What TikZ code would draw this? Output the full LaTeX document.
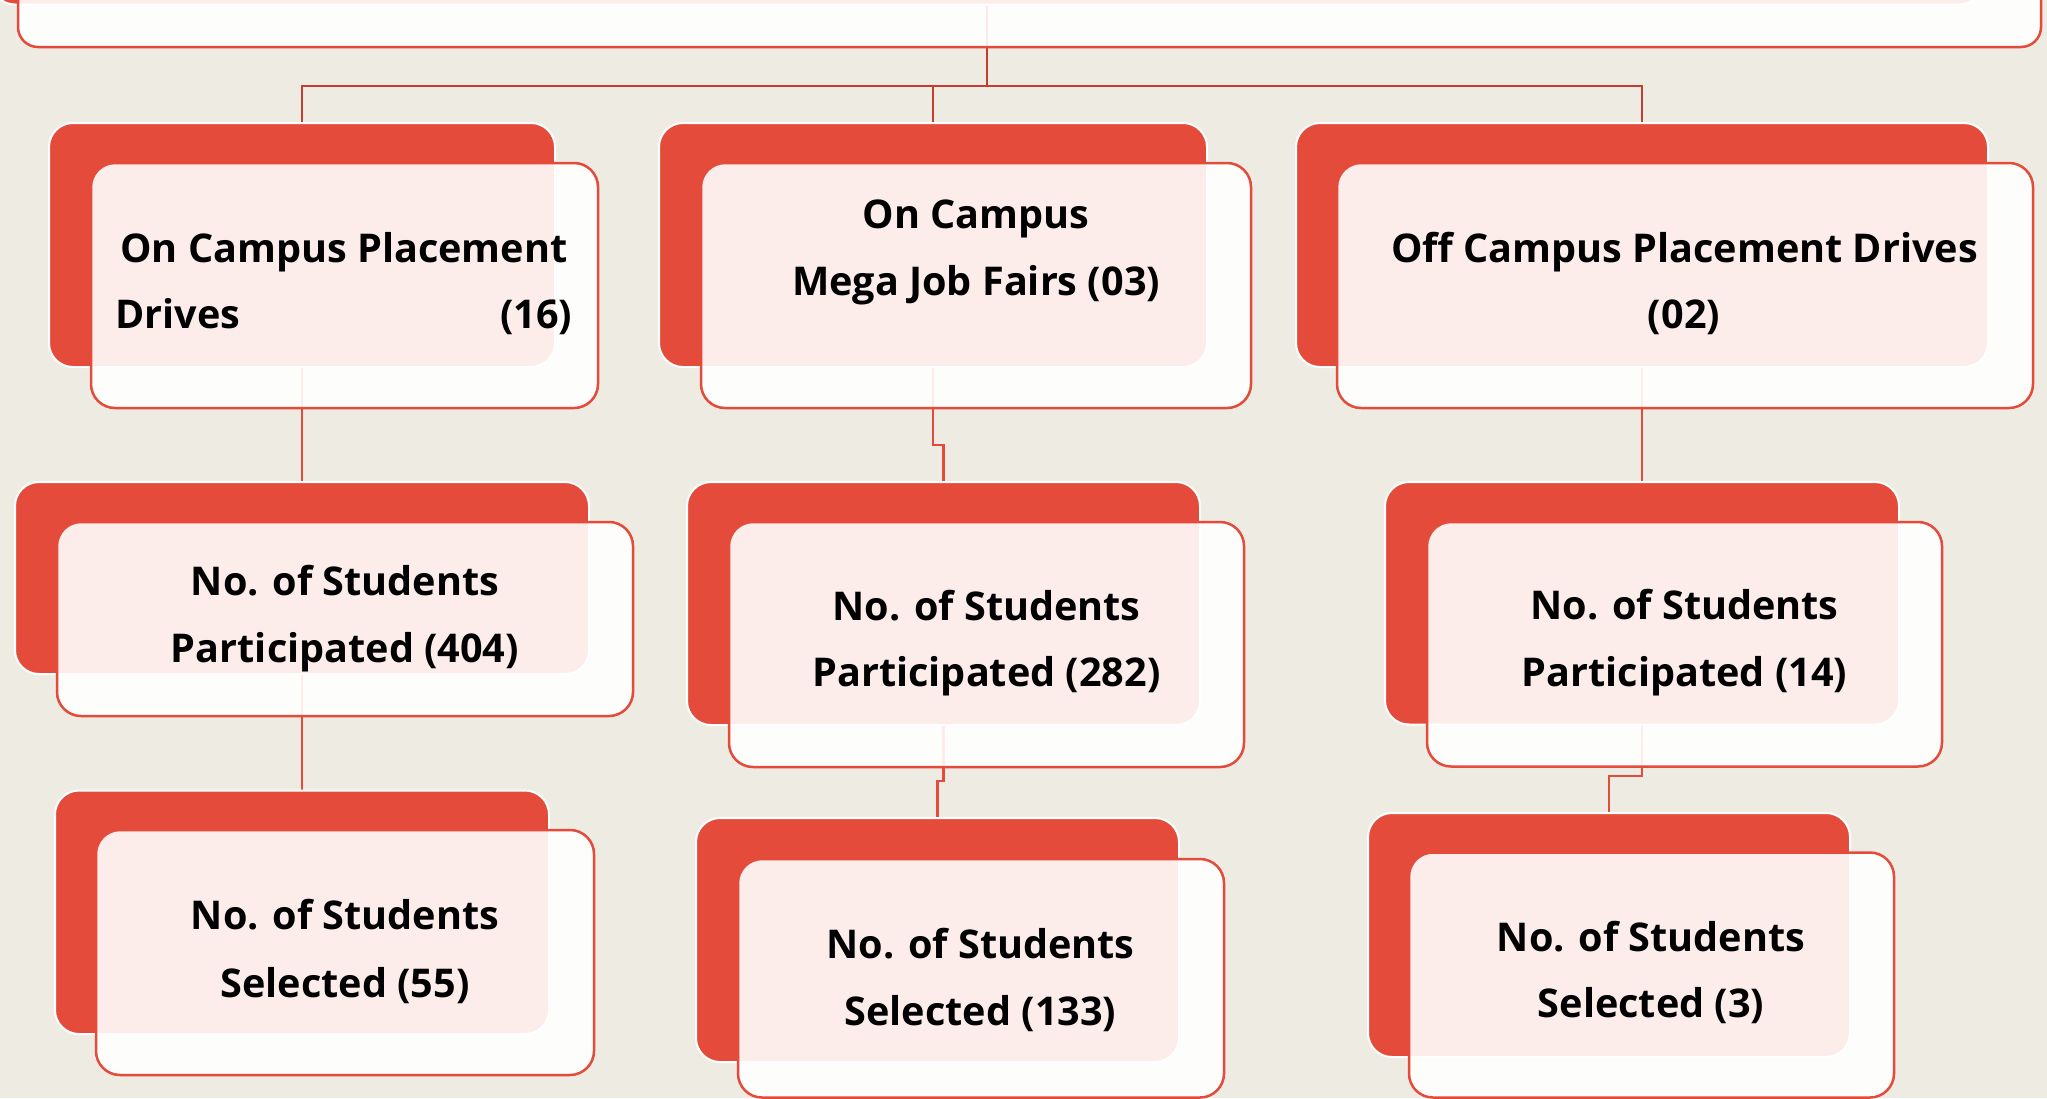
\documentclass[tikz,border=0pt]{standalone}
\usepackage{fontspec}
\setmainfont{Open Sans}
\definecolor{bgc}{HTML}{EEEBE3}
\definecolor{redc}{HTML}{E54B3A}
\definecolor{darkc}{HTML}{C63D30}
\newcommand\mybox[6]{\node[#6, minimum width={(#4)-(#2)}, minimum height={(#5)-(#3)}] (#1) at ({((#2)+(#4))/2},{((#3)+(#5))/2}) {};}
\tikzset{
  backst/.style={rectangle, rounded corners=24, fill=redc, draw=white, line width=2, inner sep=0, outer sep=0},
  frontst/.style={rectangle, rounded corners=24, fill=white, fill opacity=0.9, draw=redc, line width=2.5, inner sep=0, outer sep=0},
  conn/.style={draw=redc, line width=2.2},
  topconn/.style={draw=darkc, line width=2.6},
  txt/.style={font=\fontsize{39.6}{46}\selectfont\bfseries, anchor=base, inner sep=0, text=black}
}
\begin{document}
\begin{tikzpicture}[x=1pt,y=-1pt]
\useasboundingbox (0,0) rectangle (2047,1098);
\clip (0,0) rectangle (2047,1098);
\fill[bgc] (0,0) rectangle (2047,1098);
% junction coordinates
\coordinate (bus) at (0,86);
\coordinate (jB) at (0,445);
\coordinate (jE) at (0,781);
\coordinate (jF) at (0,776);
% invisible placement of node centers for connectors (boxes drawn later)
\begin{scope}[opacity=0]
\mybox{Rb}{-9}{-240}{1983}{4.5}{backst}
\mybox{Ab}{49}{123}{555}{367}{backst}
\mybox{Bb}{659}{123}{1207}{367}{backst}
\mybox{Cb}{1296}{123}{1988}{367}{backst}
\mybox{Db}{15}{482}{589}{674}{backst}
\mybox{Eb}{687}{482}{1200}{725}{backst}
\mybox{Fb}{1385}{482}{1899}{724.5}{backst}
\mybox{Gb}{55}{790.5}{549}{1034}{backst}
\mybox{Hb}{696}{818}{1179}{1062}{backst}
\mybox{Ib}{1368}{813}{1850}{1057}{backst}
\end{scope}
% connectors
\draw[topconn] (Rb.center) -- (Rb.center |- bus) -- (Ab.center |- bus) -- (Ab.north);
\draw[topconn] (Rb.center) -- (Rb.center |- bus) -- (Bb.center |- bus) -- (Bb.north);
\draw[topconn] (Rb.center) -- (Rb.center |- bus) -- (Cb.center |- bus) -- (Cb.north);
\draw[conn] (Ab.center) -- (Db.north);
\draw[conn] (Bb.center) -- (Bb.center |- jB) -- (Eb.center |- jB) -- (Eb.north);
\draw[conn] (Cb.center) -- (Fb.north);
\draw[conn] (Db.center) -- (Gb.north);
\draw[conn] (Eb.center) -- (Eb.center |- jE) -- (Hb.center |- jE) -- (Hb.north);
\draw[conn] (Fb.center) -- (Fb.center |- jF) -- (Ib.center |- jF) -- (Ib.north);
% boxes
\mybox{Rb}{-9}{-240}{1983}{4.5}{backst}
\mybox{Rf}{18}{-200}{2041}{47}{frontst, rounded corners=20}
\mybox{Ab}{49}{123}{555}{367}{backst}
\mybox{Af}{91}{163}{598}{408}{frontst}
\mybox{Bb}{659}{123}{1207}{367}{backst}
\mybox{Bf}{701}{163}{1251}{408}{frontst}
\mybox{Cb}{1296}{123}{1988}{367}{backst}
\mybox{Cf}{1337}{163}{2033}{408}{frontst}
\mybox{Db}{15}{482}{589}{674}{backst}
\mybox{Df}{57}{522}{633}{716}{frontst}
\mybox{Eb}{687}{482}{1200}{725}{backst}
\mybox{Ef}{729}{522}{1244}{767}{frontst}
\mybox{Fb}{1385}{482}{1899}{724.5}{backst}
\mybox{Ff}{1427}{522}{1942}{766.5}{frontst}
\mybox{Gb}{55}{790.5}{549}{1034}{backst}
\mybox{Gf}{96}{830}{594}{1075}{frontst}
\mybox{Hb}{696}{818}{1179}{1062}{backst}
\mybox{Hf}{738}{859}{1224}{1097.5}{frontst}
\mybox{Ib}{1368}{813}{1850}{1057}{backst}
\mybox{If}{1409}{852.5}{1894}{1097.5}{frontst}
% texts
\node[txt] (At1) at (344,262) {On Campus Placement};
\node[txt, anchor=base west, text width=457, align=left] (At2) at (115,328) {Drives\hfill(16)};
\node[txt] (Bt1) at (976,228) {On Campus};
\node[txt] (Bt2) at (976,295) {Mega Job Fairs (03)};
\node[txt] (Ct1) at (1684.5,262) {Off Campus Placement Drives};
\node[txt] (Ct2) at (1684,328) {(02)};
\node[txt] (Dt1) at (345,595.5) {No. of Students};
\node[txt] (Dt2) at (345,662) {Participated (404)};
\node[txt] (Et1) at (986.5,620) {No. of Students};
\node[txt] (Et2) at (986.5,686.5) {Participated (282)};
\node[txt] (Ft1) at (1684.5,619.5) {No. of Students};
\node[txt] (Ft2) at (1684.5,686) {Participated (14)};
\node[txt] (Gt1) at (345,929) {No. of Students};
\node[txt] (Gt2) at (345,997) {Selected (55)};
\node[txt] (Ht1) at (980.5,958) {No. of Students};
\node[txt] (Ht2) at (980.5,1025) {Selected (133)};
\node[txt] (It1) at (1651,951.5) {No. of Students};
\node[txt] (It2) at (1651,1017) {Selected (3)};
\end{tikzpicture}
\end{document}
